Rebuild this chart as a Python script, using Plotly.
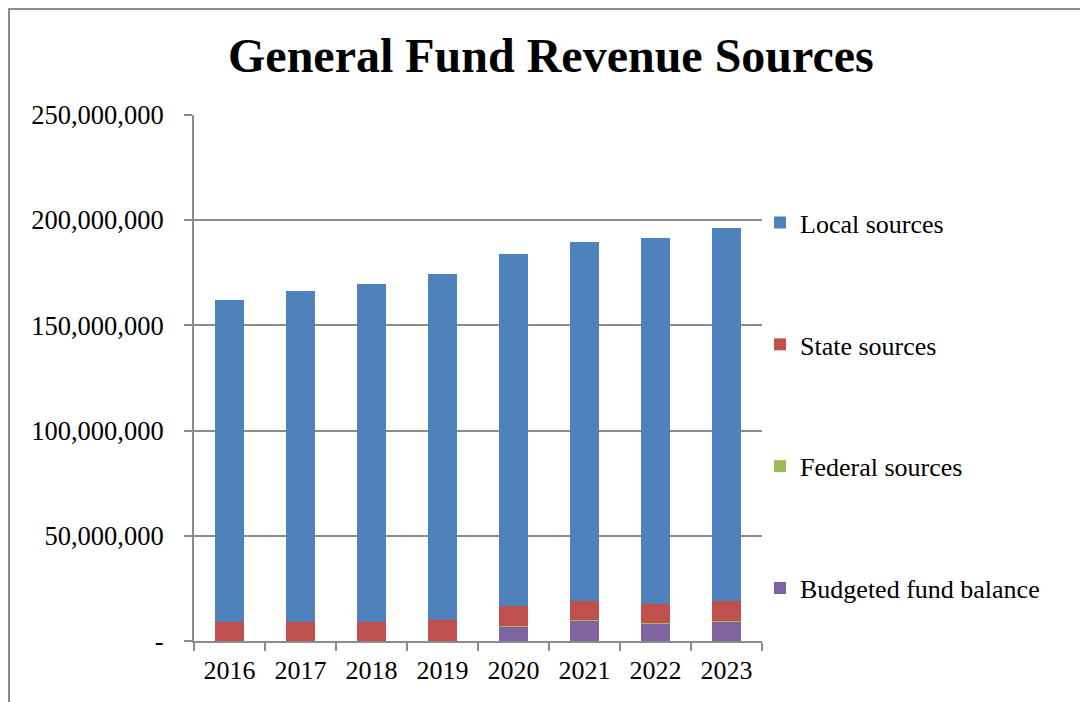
import plotly.graph_objects as go

years = ["2016", "2017", "2018", "2019", "2020", "2021", "2022", "2023"]
budgeted = [0, 0, 0, 0, 7.0e6, 9.8e6, 8.4e6, 9.4e6]
federal = [0.05e6, 0.05e6, 0.05e6, 0.05e6, 0.2e6, 0.05e6, 0.05e6, 0.05e6]
state = [8.9e6, 8.9e6, 9.1e6, 9.8e6, 9.3e6, 9.15e6, 8.95e6, 9.45e6]
totals = [161.9e6, 166.3e6, 169.7e6, 174.4e6, 183.8e6, 189.6e6, 191.5e6, 196.1e6]
local = [t - b - f - s for t, b, f, s in zip(totals, budgeted, federal, state)]

tick_vals = [0, 50e6, 100e6, 150e6, 200e6, 250e6]
tick_text = ["-", "50,000,000", "100,000,000", "150,000,000", "200,000,000", "250,000,000"]

series = [
    ("Budgeted fund balance", budgeted, "#8064A2", 4),
    ("Federal sources", federal, "#9BBB59", 3),
    ("State sources", state, "#C0504D", 2),
    ("Local sources", local, "#4F81BD", 1),
]

FONT = "Liberation Serif, Times New Roman, serif"

fig = go.Figure()
for name, vals, color, rank in series:
    fig.add_trace(go.Bar(
        x=years, y=vals, name=name, legendgroup=name, legendrank=rank,
        marker=dict(color=color, line=dict(width=0)),
    ))

L, T, PW, PH = 186, 107, 568, 526

fig.update_layout(
    barmode="stack",
    bargap=0.6,
    width=1088, height=702,
    margin=dict(l=L, r=1088 - L - PW, t=T, b=702 - T - PH),
    paper_bgcolor="white",
    plot_bgcolor="white",
    font=dict(family=FONT, size=26, color="black"),
    title=dict(text="<b>General Fund Revenue Sources</b>", x=0.499, xref="container",
               y=1 - 47 / 702, yref="container", xanchor="center", yanchor="middle",
               font=dict(family=FONT, size=48, color="black")),
    legend=dict(x=(760 - 8 - L) / PW, y=0.84, xanchor="left", yanchor="top",
                traceorder="grouped", tracegroupgap=85,
                font=dict(family=FONT, size=26, color="black"),
                itemwidth=30, bgcolor="rgba(0,0,0,0)"),
    showlegend=True,
)

fig.update_yaxes(range=[0, 250e6], tickvals=tick_vals, ticktext=tick_text,
                 showgrid=True, gridcolor="#8c8c8c", gridwidth=2,
                 showline=True, linecolor="#8c8c8c", linewidth=2,
                 ticks="outside", ticklen=8, tickcolor="#8c8c8c", tickwidth=2,
                 ticklabelstandoff=15,
                 zeroline=False, tickfont=dict(family=FONT, size=26.5))
fig.update_xaxes(showline=True, linecolor="#8c8c8c", linewidth=2,
                 ticks="outside", ticklen=8, tickcolor="#8c8c8c", tickwidth=2,
                 tickson="boundaries", showgrid=False, ticklabelstandoff=5,
                 tickfont=dict(family=FONT, size=26))

# outer chart border
fig.add_shape(type="rect", xref="paper", yref="paper",
              x0=(1 - L) / PW, x1=(1078 - L) / PW,
              y0=-0.3, y1=(PH + T - 1) / PH,
              line=dict(color="#8c8c8c", width=2), fillcolor="rgba(0,0,0,0)", layer="below")

fig.write_html("out.html")
